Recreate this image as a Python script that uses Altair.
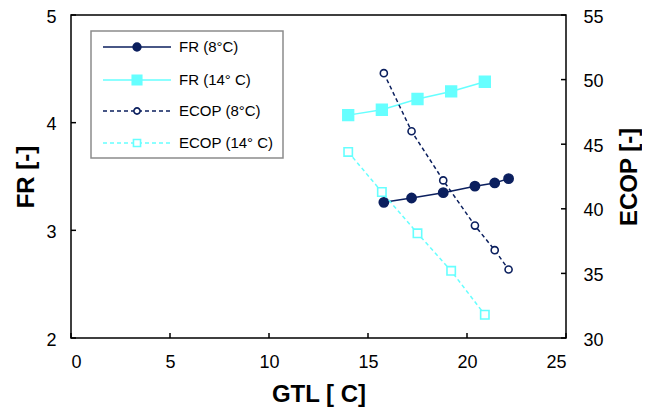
import altair as alt
import pandas as pd

# ---- data ----
gtl_8 = [15.8, 17.2, 18.8, 20.4, 21.4, 22.1]
fr_8 = [3.26, 3.30, 3.35, 3.41, 3.44, 3.48]
ecop_8 = [50.5, 46.0, 42.2, 38.7, 36.8, 35.3]

gtl_14 = [14.0, 15.7, 17.5, 19.2, 20.9]
fr_14 = [4.07, 4.12, 4.22, 4.29, 4.38]
ecop_14 = [44.4, 41.3, 38.1, 35.2, 31.8]

x_ticks = [0, 5, 10, 15, 20, 25]
fr_ticks = [2, 3, 4, 5]
ecop_ticks = [30, 35, 40, 45, 50, 55]

legend_labels = ["FR (8°C)", "FR (14° C)", "ECOP (8°C)", "ECOP (14° C)"]

NAVY = "#0B1F5E"
CYAN = "#66FFFF"
W, H = 495, 323
FONT = "Liberation Sans"

xscale = alt.Scale(domain=[0, 25], nice=False, zero=False)
frscale = alt.Scale(domain=[2, 5], nice=False, zero=False)
ecscale = alt.Scale(domain=[30, 55], nice=False, zero=False)

xaxis = alt.Axis(values=x_ticks, format="d", labelPadding=15, titlePadding=11,
                 labelFontSize=18, titleFontSize=24)
fraxis = alt.Axis(values=fr_ticks, format="d", orient="left", labelPadding=15,
                  labelOffset=2, titlePadding=7, labelFontSize=18, titleFontSize=24)
ecaxis = alt.Axis(values=ecop_ticks, format="d", orient="right", labelPadding=17,
                  labelOffset=2, titlePadding=38, titleAngle=270, labelFontSize=18,
                  titleFontSize=24)

X = alt.X("GTL:Q", scale=xscale, axis=xaxis, title="GTL [ C]")

df_fr8 = pd.DataFrame({"GTL": gtl_8, "FR": fr_8})
df_fr14 = pd.DataFrame({"GTL": gtl_14, "FR": fr_14})
df_ec8 = pd.DataFrame({"GTL": gtl_8, "ECOP": ecop_8})
df_ec14 = pd.DataFrame({"GTL": gtl_14, "ECOP": ecop_14})


def series(df, col, scale, axis, title, color, shape, filled, dash, size):
    Y = alt.Y(f"{col}:Q", scale=scale, axis=axis, title=title)
    line_kw = dict(color=color, strokeWidth=1.5)
    if dash:
        line_kw["strokeDash"] = dash
    line = alt.Chart(df).mark_line(**line_kw).encode(x=X, y=Y)
    pts = alt.Chart(df).mark_point(
        shape=shape, filled=True, fill=color if filled else "white",
        stroke=color, strokeWidth=1.6, size=size, opacity=1
    ).encode(x=X, y=Y)
    return [line, pts]


fr_tick_layer = alt.Chart(pd.DataFrame({"FR": fr_ticks})).mark_rule(
    color="black", strokeWidth=1.5
).encode(y=alt.Y("FR:Q", scale=frscale, axis=fraxis, title="FR [-]"),
         x=alt.value(0), x2=alt.value(5))

ec_tick_layer = alt.Chart(pd.DataFrame({"ECOP": ecop_ticks})).mark_rule(
    color="black", strokeWidth=1.5
).encode(y=alt.Y("ECOP:Q", scale=ecscale, axis=ecaxis, title="ECOP [-]"),
         x=alt.value(W - 5), x2=alt.value(W))

x_tick_layer = alt.Chart(pd.DataFrame({"GTL": x_ticks})).mark_rule(
    color="black", strokeWidth=1.5
).encode(x=X, y=alt.value(H - 5), y2=alt.value(H))

fr_layer = alt.layer(
    fr_tick_layer,
    *series(df_fr8, "FR", frscale, fraxis, "FR [-]", NAVY, "circle", True, None, 85),
    *series(df_fr14, "FR", frscale, fraxis, "FR [-]", CYAN, "square", True, None, 115),
)
ec_layer = alt.layer(
    ec_tick_layer,
    *series(df_ec8, "ECOP", ecscale, ecaxis, "ECOP [-]", NAVY, "circle", False, [4, 3], 50),
    *series(df_ec14, "ECOP", ecscale, ecaxis, "ECOP [-]", CYAN, "square", False, [4, 3], 70),
)

# ---- legend (drawn box) ----
one = alt.Data(values=[{}])
legend_layers = [
    alt.Chart(one).mark_rect(fill="white", stroke="#8c8c8c", strokeWidth=1.5).encode(
        x=alt.value(20), x2=alt.value(212), y=alt.value(16), y2=alt.value(143))
]
leg_style = [
    (NAVY, "circle", True, None, 60),
    (CYAN, "square", True, None, 90),
    (NAVY, "circle", False, [4, 3], 38),
    (CYAN, "square", False, [4, 3], 50),
]
row_y = [32, 65, 96, 128]
for lab, (color, shape, filled, dash, size), ry in zip(legend_labels, leg_style, row_y):
    kw = dict(color=color, strokeWidth=1.5)
    if dash:
        kw["strokeDash"] = dash
    legend_layers.append(alt.Chart(one).mark_rule(**kw).encode(
        x=alt.value(32), x2=alt.value(100), y=alt.value(ry)))
    legend_layers.append(alt.Chart(one).mark_point(
        shape=shape, filled=True, fill=color if filled else "white", stroke=color,
        strokeWidth=1.6, size=size, opacity=1).encode(x=alt.value(66), y=alt.value(ry)))
    legend_layers.append(alt.Chart(one).mark_text(
        align="left", baseline="middle", font=FONT, fontSize=15, color="black"
    ).encode(x=alt.value(108), y=alt.value(ry), text=alt.value(lab)))

chart = alt.layer(fr_layer, ec_layer, x_tick_layer, *legend_layers).resolve_scale(
    y="independent"
).properties(
    width=W, height=H,
    autosize=alt.AutoSizeParams(type="none"),
    padding={"left": 63, "top": 7, "right": 76, "bottom": 73},
).configure_view(
    stroke="black", strokeWidth=1.5
).configure_axis(
    domain=False, ticks=False, grid=False,
    labelFont=FONT, labelColor="black", titleFont=FONT, titleColor="black",
    titleFontWeight="bold",
)

chart.save("out.html", embed_options={"renderer": "svg", "actions": False})
